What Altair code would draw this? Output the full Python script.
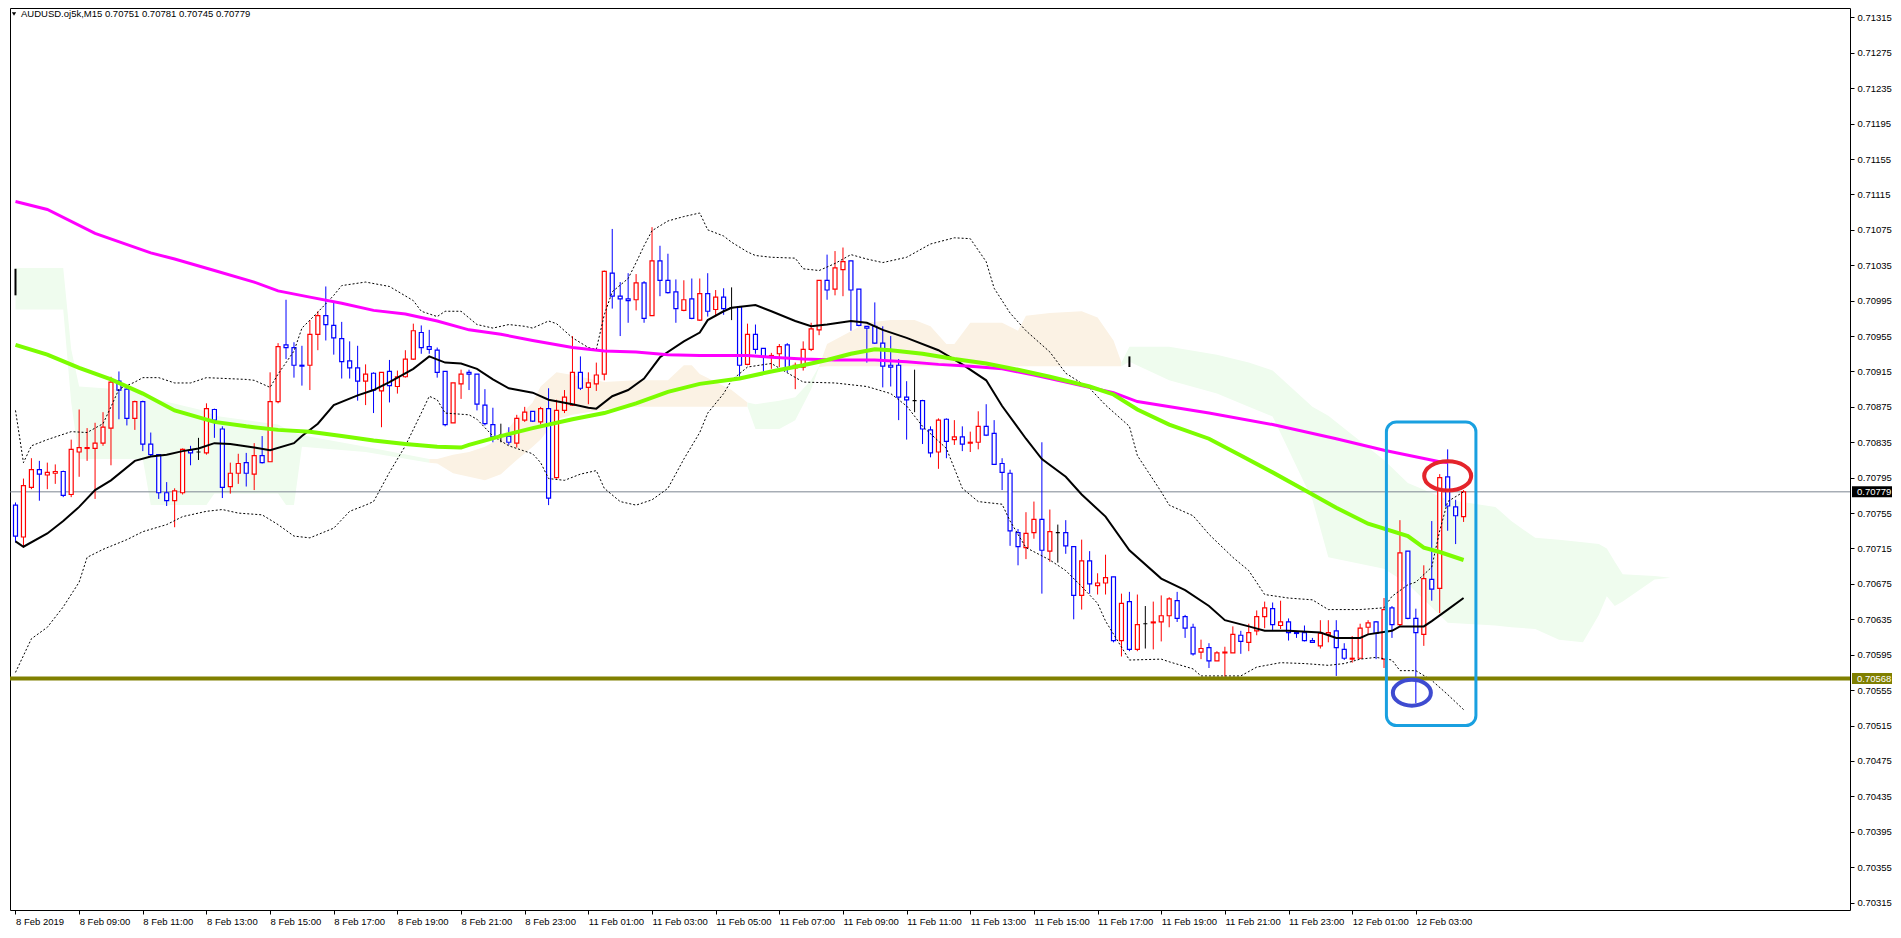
import json
import altair as alt
import pandas as pd

# ---------------- data (prices in points of 0.00001) ----------------
opens = [70764,70728,70784,70804,70798,70800,70802,70776,70824,70828,
         70828,70834,70851,70904,70895,70862,70881,70833,70821,70778,
         70769,70778,70826,70824,70823,70872,70850,70785,70800,70812,
         70799,70820,70813,70881,70945,70942,70922,70922,70957,70978,
         70967,70952,70927,70919,70904,70913,70893,70915,70898,70909,
         70929,70959,70943,70939,70915,70857,70901,70914,70912,70877,
         70855,70843,70842,70834,70860,70870,70858,70873,70795,70871,
         70877,70914,70897,70901,70912,71026,71000,70997,70996,71015,
         70978,71040,71018,71005,70984,70997,70973,71003,70985,70999,
         70987,70988,70923,70957,70941,70932,70935,70945,70919,70920,
         70940,70962,71018,71008,71030,71040,71008,70966,70966,70947,
         70922,70922,70886,70882,70882,70849,70824,70861,70838,70841,
         70834,70835,70853,70845,70811,70800,70733,70716,70733,70748,
         70712,70733,70733,70717,70662,70701,70673,70676,70683,70611,
         70655,70601,70630,70631,70632,70639,70656,70638,70626,70598,
         70603,70588,70597,70597,70617,70609,70622,70638,70647,70628,
         70632,70620,70620,70611,70605,70618,70622,70601,70590,70591,
         70626,70632,70590,70648,70629,70712,70636,70618,70680,70670,
         70796,70762,70751]
highs = [70767,70794,70817,70814,70812,70810,70803,70838,70872,70851,
         70857,70869,70909,70915,70897,70882,70882,70846,70821,70790,
         70783,70828,70831,70840,70879,70873,70853,70812,70822,70823,
         70834,70842,70914,70947,70996,70948,70944,70973,70983,71011,
         70994,70971,70949,70944,70923,70914,70914,70928,70916,70939,
         70969,70967,70962,70942,70915,70902,70917,70917,70912,70895,
         70874,70856,70852,70866,70875,70870,70875,70896,70883,70894,
         70955,70932,70914,70925,71029,71076,71016,71026,71025,71017,
         71078,71057,71048,71019,71018,71020,71020,71026,71007,71009,
         71010,70989,70969,70968,70941,70936,70946,70947,70925,70949,
         70970,71018,71047,71051,71055,71040,71008,70966,70993,70966,
         70955,70929,70904,70917,70883,70853,70862,70862,70860,70853,
         70847,70870,70878,70860,70817,70804,70737,70756,70768,70835,
         70759,70742,70747,70717,70725,70712,70687,70708,70683,70664,
         70666,70663,70650,70655,70662,70660,70666,70640,70630,70612,
         70608,70599,70604,70627,70622,70630,70645,70655,70654,70656,
         70636,70621,70628,70614,70634,70634,70634,70608,70616,70630,
         70634,70633,70659,70650,70747,70712,70647,70696,70746,70799,
         70827,70770,70781]
lows = [70722,70716,70782,70769,70782,70788,70773,70773,70796,70814,
        70771,70831,70809,70861,70854,70849,70825,70819,70771,70763,
        70739,70776,70809,70815,70821,70840,70772,70777,70788,70785,
        70781,70811,70813,70879,70929,70908,70899,70894,70939,70950,
        70934,70907,70907,70882,70877,70868,70852,70880,70890,70908,
        70928,70935,70935,70908,70853,70857,70884,70894,70871,70854,
        70835,70835,70832,70829,70858,70858,70855,70764,70794,70868,
        70876,70894,70878,70893,70905,70986,70955,70970,70984,70970,
        70978,71000,71003,70970,70983,70974,70972,70977,70977,70979,
        70973,70909,70922,70935,70915,70918,70920,70914,70895,70916,
        70938,70956,70996,71001,71000,70961,70966,70925,70946,70897,
        70898,70860,70838,70869,70833,70818,70805,70817,70832,70825,
        70824,70827,70842,70810,70781,70718,70696,70703,70726,70664,
        70700,70699,70709,70635,70646,70664,70663,70663,70609,70593,
        70599,70599,70602,70601,70610,70626,70632,70614,70594,70590,
        70580,70588,70570,70597,70596,70599,70617,70625,70623,70624,
        70611,70614,70610,70609,70602,70609,70571,70589,70586,70591,
        70618,70590,70580,70614,70627,70635,70540,70605,70656,70642,
        70735,70720,70745]
closes = [70729,70786,70804,70799,70801,70802,70775,70827,70829,70829,
          70834,70852,70903,70894,70862,70881,70833,70821,70778,70769,
          70780,70827,70823,70824,70873,70860,70784,70800,70811,70800,
          70820,70812,70881,70943,70942,70922,70921,70957,70978,70968,
          70953,70926,70919,70904,70912,70894,70914,70899,70909,70929,
          70961,70942,70940,70914,70855,70902,70912,70912,70878,70856,
          70841,70843,70835,70862,70869,70859,70873,70772,70871,70886,
          70914,70896,70902,70911,71028,71000,70997,70995,71015,70975,
          71040,71018,71004,70986,70996,70975,71003,70983,70999,70986,
          70987,70922,70957,70940,70932,70933,70943,70919,70922,70940,
          70963,71018,71007,71032,71039,71007,70967,70964,70947,70921,
          70920,70886,70883,70882,70850,70823,70860,70836,70841,70833,
          70835,70853,70843,70810,70801,70735,70717,70732,70748,70713,
          70734,70733,70718,70662,70701,70675,70676,70682,70611,70653,
          70601,70629,70630,70632,70639,70658,70636,70625,70596,70602,
          70588,70597,70598,70618,70610,70620,70638,70648,70629,70632,
          70620,70619,70611,70609,70619,70620,70603,70591,70591,70625,
          70631,70619,70646,70629,70710,70636,70620,70681,70669,70795,
          70763,70752,70779]

time_labels = ["8 Feb 2019", "8 Feb 09:00", "8 Feb 11:00", "8 Feb 13:00", "8 Feb 15:00",
               "8 Feb 17:00", "8 Feb 19:00", "8 Feb 21:00", "8 Feb 23:00", "11 Feb 01:00",
               "11 Feb 03:00", "11 Feb 05:00", "11 Feb 07:00", "11 Feb 09:00", "11 Feb 11:00",
               "11 Feb 13:00", "11 Feb 15:00", "11 Feb 17:00", "11 Feb 19:00", "11 Feb 21:00",
               "11 Feb 23:00", "12 Feb 01:00", "12 Feb 03:00"]
bars_per_label = 8

price_ticks = [0.70315, 0.70355, 0.70395, 0.70435, 0.70475, 0.70515, 0.70555, 0.70595,
               0.70635, 0.70675, 0.70715, 0.70755, 0.70795, 0.70835, 0.70875, 0.70915,
               0.70955, 0.70995, 0.71035, 0.71075, 0.71115, 0.71155, 0.71195, 0.71235,
               0.71275, 0.71315]

sma_black = [[0,70723],[1,70717],[4,70732],[6,70746],[8,70762],[10,70781],[12,70792],[15,70814],
             [17,70819],[19,70821],[21,70825],[23,70828],[25,70834],[27,70833],[30,70829],[32,70826],
             [35,70834],[36,70842],[38,70856],[40,70877],[43,70888],[45,70894],[47,70903],[50,70918],
             [52,70932],[54,70925],[56,70924],[58,70918],[60,70906],[62,70896],[65,70891],[67,70883],
             [70,70878],[72,70874],[73,70873],[75,70887],[77,70894],[79,70907],[81,70931],[84,70949],
             [86,70959],[87,70973],[89,70983],[90,70987],[93,70990],[95,70983],[98,70972],[100,70966],
             [102,70968],[105,70972],[107,70970],[109,70962],[112,70953],[116,70939],[119,70923],
             [122,70905],[124,70876],[127,70839],[129,70816],[132,70796],[134,70776],[137,70751],
             [140,70713],[144,70681],[147,70668],[150,70650],[152,70634],[155,70627],[157,70622],
             [160,70622],[164,70620],[166,70614],[169,70614],[170,70618],[173,70622],[174,70627],
             [177,70627],[178,70633],[180,70646],[182,70659]]
ma_green = [[0,70945],[4,70934],[8,70919],[12,70906],[16,70890],[20,70871],[25,70858],[29,70853],
            [33,70849],[37,70847],[41,70842],[45,70837],[49,70833],[53,70830],[56,70829],[57,70832],
            [61,70842],[65,70851],[70,70861],[74,70868],[78,70879],[82,70892],[86,70901],[91,70907],
            [95,70915],[99,70922],[102,70928],[105,70935],[108,70940],[110,70939],[114,70935],
            [118,70929],[122,70924],[126,70917],[130,70909],[135,70898],[138,70889],[141,70872],
            [145,70855],[150,70839],[154,70820],[158,70801],[162,70781],[166,70761],[170,70743],
            [175,70729],[177,70716],[179,70711],[182,70702]]
ma_magenta = [[0,71107],[4,71098],[10,71071],[17,71049],[20,71042],[25,71029],[30,71016],[33,71006],
              [37,70999],[41,70992],[45,70984],[49,70980],[53,70972],[57,70962],[61,70957],[65,70950],
              [70,70942],[74,70938],[78,70937],[82,70934],[86,70933],[92,70933],[95,70931],[99,70929],
              [103,70928],[108,70928],[112,70926],[116,70923],[120,70921],[124,70918],[128,70911],
              [132,70903],[138,70891],[141,70881],[150,70868],[158,70855],[166,70839],[172,70826],
              [179,70813],[180,70812]]
bb_upper = [[0,70871],[1,70812],[2,70831],[4,70838],[7,70847],[9,70846],[11,70856],[12,70875],[13,70895],
            [15,70903],[16,70908],[18,70908],[20,70902],[22,70902],[24,70908],[29,70906],[30,70905],
            [32,70897],[33,70912],[35,70938],[36,70964],[38,70982],[40,71001],[41,71012],[44,71016],
            [47,71011],[50,70995],[51,70983],[53,70977],[54,70983],[56,70983],[58,70968],[60,70964],
            [62,70968],[64,70966],[65,70964],[67,70972],[68,70969],[70,70953],[72,70942],[73,70940],
            [74,70979],[75,71005],[77,71020],[78,71038],[79,71057],[80,71074],[82,71085],[84,71090],
            [86,71094],[87,71075],[89,71068],[90,71061],[92,71050],[93,71046],[95,71044],[98,71043],
            [99,71031],[101,71029],[103,71037],[105,71047],[107,71042],[109,71038],[112,71044],
            [115,71059],[118,71066],[120,71065],[122,71039],[123,71009],[125,70981],[127,70961],
            [130,70937],[132,70913],[135,70896],[137,70877],[140,70853],[141,70820],[144,70779],
            [145,70764],[148,70752],[150,70731],[153,70705],[155,70690],[157,70663],[160,70659],
            [163,70657],[165,70646],[169,70646],[172,70648],[173,70661],[175,70674],[176,70677],
            [178,70694],[179,70735],[180,70768],[182,70779]]
bb_lower = [[0,70575],[2,70613],[4,70626],[6,70649],[8,70677],[9,70705],[11,70714],[14,70725],
            [16,70734],[19,70742],[21,70751],[24,70757],[26,70759],[28,70755],[31,70753],[33,70742],
            [35,70729],[37,70727],[40,70738],[42,70757],[44,70764],[45,70768],[47,70801],[49,70831],
            [51,70868],[52,70887],[53,70883],[54,70868],[57,70866],[58,70861],[60,70842],[62,70831],
            [65,70822],[66,70812],[67,70794],[69,70792],[71,70799],[73,70803],[74,70783],[76,70768],
            [78,70764],[80,70770],[82,70783],[84,70816],[86,70846],[87,70868],[89,70890],[90,70905],
            [92,70920],[95,70924],[99,70903],[103,70902],[107,70898],[110,70890],[112,70876],
            [114,70853],[117,70828],[119,70783],[121,70768],[124,70765],[125,70746],[127,70716],
            [130,70702],[132,70690],[134,70672],[136,70653],[137,70633],[140,70589],[144,70590],
            [145,70587],[148,70579],[149,70571],[154,70571],[156,70581],[159,70586],[162,70585],
            [165,70583],[167,70585],[169,70590],[171,70592],[173,70589],[174,70577],[176,70577],
            [178,70566],[180,70550],[182,70533]]

# Ichimoku cloud: [bar index, upper edge, lower edge]
kumo_green_1 = [[0,71032,70985],[6,71032,70985],[7,70940,70880],[8,70898,70816],[16,70893,70816],
                [17,70885,70764],[24,70870,70764],[25,70865,70777],[33,70855,70777],[34,70850,70764],
                [35,70846,70764],[36,70843,70830],[44,70830,70824],[52,70816,70812]]
kumo_orange_1 = [[52,70816,70812],[53,70816,70811],[55,70821,70800],[57,70824,70796],[59,70830,70792],
                 [61,70840,70799],[63,70862,70815],[65,70880,70830],[66,70898,70838],[68,70914,70861],
                 [70,70911,70866],[74,70903,70872],[78,70905,70875],[82,70905,70875],[84,70922,70875],
                 [85,70922,70875],[86,70912,70875],[88,70903,70875],[90,70894,70875],[92,70880,70875]]
kumo_green_2 = [[92,70880,70875],[93,70878,70850],[96,70882,70850],[98,70886,70860],[100,70905,70895],
                [101,70921,70920]]
kumo_orange_2 = [[101,70921,70920],[102,70946,70921],[107,70970,70921],[110,70973,70921],
                 [113,70973,70921],[115,70966,70921],[117,70946,70921],[118,70946,70921],
                 [120,70970,70921],[124,70970,70921],[126,70961,70921],[127,70978,70921],
                 [130,70981,70921],[134,70983,70921],[136,70976,70921],[138,70950,70921],
                 [139,70925,70921]]
kumo_green_3 = [[139,70925,70921],[140,70943,70926],[145,70943,70905],[151,70934,70890],
                [155,70925,70875],[158,70916,70864],[163,70875,70770],[165,70865,70705],
                [172,70815,70692],[175,70789,70675],[180,70770,70631],[186,70762,70628],
                [188,70746,70626],[191,70727,70624],[194,70725,70612],[197,70722,70609],
                [199,70720,70640],[200,70715,70661],[201,70700,70650],[202,70686,70655],
                [206,70684,70680],[208,70682,70682]]
kumo_marks = [[0,71001,71031],[140,70920,70932]]

current_price = 70779
support_level = 70568
highlight_box = [172.3, 183.55, 70858, 70515]      # bar from, bar to, price top, price bottom
red_ellipse = [180.0, 70797]
blue_ellipse = [175.5, 70552]
header = "AUDUSD.oj5k,M15  0.70751 0.70781 0.70745 0.70779"

# ---------------- build ----------------
PT = 100000.0
W, H = 1840, 902
FONT = "Liberation Sans"
COLORS = {"up": "#ff0000", "down": "#0000ff", "doji": "#000000",
          "g": "#effcee", "o": "#fbf2e4", "cur": "#000000", "sup": "#808000"}

xs = alt.Scale(domain=[-0.0625, W / 8 - 0.0625], nice=False, zero=False)
ys = alt.Scale(domain=[0.703066, 0.713256], nice=False, zero=False)

x_axis = alt.Axis(values=[bars_per_label * k for k in range(len(time_labels))],
                  labelExpr=f"{json.dumps(time_labels)}[round(datum.value/{bars_per_label})]",
                  labelAlign="left", labelBaseline="top", labelPadding=2, labelFont=FONT,
                  labelFontSize=9.5, labelColor="black", tickColor="black", tickSize=4,
                  domain=False, grid=False, title=None, labelOverlap=False, labelFlush=False,
                  labelBound=False)
y_axis = alt.Axis(orient="right", values=price_ticks, format=".5f", labelFont=FONT,
                  labelFontSize=9.5, labelColor="black", tickColor="black", tickSize=4,
                  labelPadding=3, domain=False, grid=False, title=None, labelOverlap=False,
                  labelFlush=False)

def X(f):
    return alt.X(f, type="quantitative", scale=xs, axis=x_axis, title=None)

def Y(f):
    return alt.Y(f, type="quantitative", scale=ys, axis=y_axis, title=None)

rows = []
for i, (o, h, l, c) in enumerate(zip(opens, highs, lows, closes)):
    kind = "up" if c > o else ("down" if c < o else "doji")
    rows.append(dict(i=i, o=o / PT, h=h / PT, l=l / PT, c=c / PT,
                     top=max(o, c) / PT, bot=min(o, c) / PT, col=COLORS[kind]))
cdf = pd.DataFrame(rows)

def line_df(pairs):
    return pd.DataFrame({"i": [p[0] for p in pairs], "v": [p[1] / PT for p in pairs]})

krows = []
for seg, (kind, pts) in enumerate([("g", kumo_green_1), ("o", kumo_orange_1), ("g", kumo_green_2),
                                   ("o", kumo_orange_2), ("g", kumo_green_3)]):
    for idx, up, lo in pts:
        krows.append(dict(seg=seg, col=COLORS[kind], i=idx, up=up / PT, lo=lo / PT))
kdf = pd.DataFrame(krows)

kumo = alt.Chart(kdf).mark_area(clip=True, opacity=1).encode(
    x=X("i"), y=Y("up"), y2="lo",
    color=alt.Color("col:N", scale=None),
    detail="seg:N",
)

kmdf = pd.DataFrame({"i": [m[0] for m in kumo_marks], "a": [m[1] / PT for m in kumo_marks],
                     "b": [m[2] / PT for m in kumo_marks]})
kumo_ticks = alt.Chart(kmdf).mark_rule(color="black", strokeWidth=2, clip=True).encode(
    x=X("i"), y=Y("a"), y2="b")

price_line = alt.Chart(pd.DataFrame({"p": [current_price / PT]})).mark_rule(
    color="#7d8591", strokeWidth=1).encode(y=Y("p"))

wicks = alt.Chart(cdf).mark_rule(strokeWidth=1, clip=True).encode(
    x=X("i"), y=Y("l"), y2="h", color=alt.Color("col:N", scale=None))
bodies = alt.Chart(cdf).mark_bar(size=4, fill="white", strokeWidth=1.2, clip=True).encode(
    x=X("i"), y=Y("top"), y2="bot", stroke=alt.Stroke("col:N", scale=None))

def line_layer(pairs, color, width, dash=None):
    kw = dict(color=color, strokeWidth=width, clip=True)
    if dash:
        kw["strokeDash"] = dash
    return alt.Chart(line_df(pairs)).mark_line(**kw).encode(x=X("i"), y=Y("v"))

up_band = line_layer(bb_upper, "black", 1, [2, 2])
lo_band = line_layer(bb_lower, "black", 1, [2, 2])
mid_line = line_layer(sma_black, "black", 2)
magenta = line_layer(ma_magenta, "#ff00ff", 3)
green = line_layer(ma_green, "#7cfc00", 4)

support = alt.Chart(pd.DataFrame({"p": [support_level / PT]})).mark_rule(
    color="#808000", strokeWidth=4).encode(y=Y("p"))

bdf = pd.DataFrame({"a": [highlight_box[0]], "b": [highlight_box[1]],
                    "t": [highlight_box[2] / PT], "u": [highlight_box[3] / PT]})
box = alt.Chart(bdf).mark_rect(filled=False, color="#19a0e0", strokeWidth=3, cornerRadius=10).encode(
    x=X("a"), x2="b", y=Y("t"), y2="u")

red_e = alt.Chart(pd.DataFrame({"i": [red_ellipse[0]], "p": [red_ellipse[1] / PT]})).mark_point(
    shape="M -1 0 A 1 0.62 0 1 1 1 0 A 1 0.62 0 1 1 -1 0 Z", size=47 * 47, filled=False,
    strokeWidth=4, color="#e4242b", opacity=1).encode(x=X("i"), y=Y("p"))
blue_e = alt.Chart(pd.DataFrame({"i": [blue_ellipse[0]], "p": [blue_ellipse[1] / PT]})).mark_point(
    shape="M -1 0 A 1 0.68 0 1 1 1 0 A 1 0.68 0 1 1 -1 0 Z", size=38 * 38, filled=False,
    strokeWidth=4, color="#3e4bd0", opacity=1).encode(x=X("i"), y=Y("p"))

tag_df = pd.DataFrame({"p": [current_price / PT, support_level / PT],
                       "txt": [f"{current_price / PT:.5f}", f"{support_level / PT:.5f}"],
                       "col": [COLORS["cur"], COLORS["sup"]]})
tags_bg = alt.Chart(tag_df).mark_tick(thickness=11, size=40, opacity=1).encode(
    x=alt.value(W + 22), y=Y("p"), color=alt.Color("col:N", scale=None))
tags_txt = alt.Chart(tag_df).mark_text(align="left", baseline="middle", font=FONT, fontSize=9.5,
                                       color="white").encode(x=alt.value(W + 7), y=Y("p"), text="txt:N")

hdr = pd.DataFrame({"t": [header]})
tri = alt.Chart(hdr).mark_point(shape="triangle-down", filled=True, size=18, color="black",
                                opacity=1).encode(x=alt.value(4), y=alt.value(6))
title_txt = alt.Chart(hdr).mark_text(align="left", baseline="middle", font=FONT, fontSize=9.5,
                                     color="black").encode(x=alt.value(11), y=alt.value(6), text="t:N")

chart = alt.layer(
    kumo, kumo_ticks, price_line, wicks, bodies, up_band, lo_band, mid_line, magenta, green,
    support, box, red_e, blue_e, tags_bg, tags_txt, tri, title_txt
).properties(width=W, height=H, padding=0, background="white").configure_view(
    stroke="black", strokeWidth=1)

chart.save("out.html", embed_options={"renderer": "svg", "actions": False})
